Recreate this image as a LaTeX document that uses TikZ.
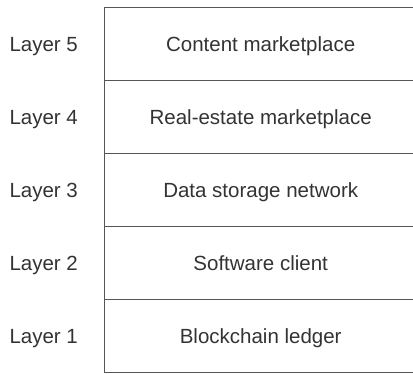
\documentclass[tikz,border=0pt]{standalone}
\usepackage{fontspec}
\setmainfont{Liberation Sans}
\definecolor{edge}{HTML}{555555}
\definecolor{ink}{HTML}{333333}
\tikzset{
  x=1pt, y=1pt,
  layertext/.style={text=ink, text height=14.7pt, text depth=0pt,
    font=\fontsize{20.5}{24}\selectfont},
  layerbox/.style={layertext, draw=edge, line width=1.4pt, rectangle,
    minimum width=312pt, minimum height=73pt, inner sep=0pt, anchor=north west},
  layerlabel/.style={layertext, inner sep=0pt}
}
\begin{document}
\begin{tikzpicture}
  \useasboundingbox (0,0) rectangle (413,373);
  \begin{scope}
    \clip (0,0) rectangle (413,373);
    \node[layerbox] (l5) at (104,366) {Content marketplace};
    \node[layerbox] (l4) at (104,293) {Real-estate marketplace};
    \node[layerbox] (l3) at (104,220) {Data storage network};
    \node[layerbox] (l2) at (104,147) {Software client};
    \node[layerbox] (l1) at (104,74) {Blockchain ledger};
  \end{scope}
  \node[layerlabel] (t5) at (43.7,0 |- l5.center) {Layer 5};
  \node[layerlabel] (t4) at (43.7,0 |- l4.center) {Layer 4};
  \node[layerlabel] (t3) at (43.7,0 |- l3.center) {Layer 3};
  \node[layerlabel] (t2) at (43.7,0 |- l2.center) {Layer 2};
  \node[layerlabel] (t1) at (43.7,0 |- l1.center) {Layer 1};
\end{tikzpicture}
\end{document}
